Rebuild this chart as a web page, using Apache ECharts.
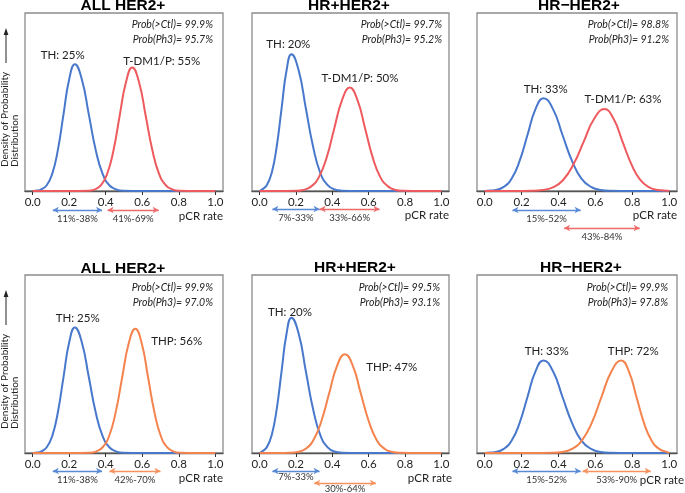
<!DOCTYPE html>
<html>
<head>
<meta charset="utf-8">
<script src="https://cdn.jsdelivr.net/npm/echarts@6/dist/echarts.min.js"></script>
<style>
html,body{margin:0;padding:0;background:#fff;}
#chart{width:685px;height:493px;}
</style>
</head>
<body>
<div id="chart"></div>
<script>
// ---------- DATA ----------
const xTicks = [0, 0.2, 0.4, 0.6, 0.8, 1.0];

// density curves: [pCR rate, relative density]
const thAllTop = [[0,0],[0.014,0.001],[0.045,0.008],[0.076,0.031],[0.107,0.096],[0.138,0.231],[0.169,0.432],[0.200,0.628],[0.231,0.712],[0.269,0.628],[0.307,0.432],[0.345,0.231],[0.383,0.096],[0.421,0.031],[0.459,0.008],[0.497,0.001],[0.6,0],[1,0]];
const tdm1All = [[0,0],[0.2,0],[0.304,0.001],[0.338,0.008],[0.373,0.031],[0.407,0.094],[0.442,0.226],[0.476,0.421],[0.511,0.612],[0.545,0.694],[0.582,0.612],[0.619,0.421],[0.656,0.226],[0.693,0.094],[0.730,0.031],[0.767,0.008],[0.804,0.001],[0.9,0],[1,0]];
const thHrPosTop = [[0,0],[0.013,0.008],[0.040,0.034],[0.067,0.104],[0.094,0.250],[0.121,0.466],[0.148,0.677],[0.175,0.768],[0.215,0.677],[0.254,0.466],[0.294,0.250],[0.333,0.104],[0.373,0.034],[0.412,0.008],[0.452,0.002],[0.55,0],[1,0]];
const tdm1HrPos = [[0,0],[0.1,0],[0.199,0.001],[0.241,0.006],[0.284,0.026],[0.326,0.078],[0.369,0.189],[0.411,0.353],[0.454,0.512],[0.496,0.581],[0.538,0.512],[0.580,0.353],[0.622,0.189],[0.664,0.078],[0.706,0.026],[0.748,0.006],[0.790,0.001],[0.9,0],[1,0]];
const thHrNegTop = [[0,0],[0.017,0.001],[0.060,0.006],[0.103,0.023],[0.146,0.070],[0.189,0.169],[0.232,0.316],[0.275,0.460],[0.318,0.521],[0.370,0.460],[0.421,0.316],[0.473,0.169],[0.524,0.070],[0.576,0.023],[0.627,0.006],[0.679,0.001],[0.8,0],[1,0]];
const tdm1HrNeg = [[0,0],[0.15,0],[0.257,0.001],[0.313,0.005],[0.369,0.020],[0.425,0.062],[0.481,0.150],[0.537,0.279],[0.593,0.406],[0.649,0.460],[0.698,0.406],[0.746,0.279],[0.795,0.150],[0.843,0.062],[0.892,0.020],[0.940,0.005],[0.989,0.001],[1,0]];

const thAllBot = [[0,0],[0.014,0.001],[0.045,0.008],[0.076,0.031],[0.107,0.095],[0.138,0.229],[0.169,0.428],[0.200,0.622],[0.231,0.705],[0.269,0.622],[0.307,0.428],[0.345,0.229],[0.383,0.095],[0.421,0.031],[0.459,0.008],[0.497,0.001],[0.6,0],[1,0]];
const thpAll = [[0,0],[0.2,0],[0.310,0.001],[0.346,0.008],[0.382,0.031],[0.418,0.094],[0.454,0.227],[0.490,0.424],[0.526,0.616],[0.562,0.698],[0.597,0.616],[0.632,0.424],[0.667,0.227],[0.702,0.094],[0.737,0.031],[0.772,0.008],[0.807,0.001],[0.9,0],[1,0]];
const thHrPosBot = [[0,0],[0.013,0.008],[0.040,0.033],[0.067,0.103],[0.094,0.247],[0.121,0.461],[0.148,0.670],[0.175,0.760],[0.215,0.670],[0.254,0.461],[0.294,0.247],[0.333,0.103],[0.373,0.033],[0.412,0.008],[0.452,0.002],[0.55,0],[1,0]];
const thpHrPos = [[0,0],[0.1,0],[0.168,0.001],[0.211,0.006],[0.254,0.024],[0.297,0.075],[0.340,0.180],[0.383,0.337],[0.426,0.490],[0.469,0.555],[0.513,0.490],[0.556,0.337],[0.600,0.180],[0.643,0.075],[0.687,0.024],[0.730,0.006],[0.774,0.001],[0.88,0],[1,0]];
const thHrNegBot = [[0,0],[0.017,0.001],[0.060,0.006],[0.103,0.023],[0.146,0.070],[0.189,0.169],[0.232,0.316],[0.275,0.459],[0.318,0.520],[0.370,0.459],[0.421,0.316],[0.473,0.169],[0.524,0.070],[0.576,0.023],[0.627,0.006],[0.679,0.001],[0.8,0],[1,0]];
const thpHrNeg = [[0,0],[0.25,0],[0.366,0.001],[0.419,0.006],[0.473,0.023],[0.526,0.070],[0.580,0.169],[0.633,0.316],[0.687,0.459],[0.740,0.520],[0.781,0.459],[0.822,0.316],[0.863,0.169],[0.904,0.070],[0.945,0.023],[0.986,0.006],[1,0.002]];

// 95% intervals [low, high]
const ciThAll = [0.11, 0.38];
const ciTdm1All = [0.41, 0.69];
const ciThHrPos = [0.07, 0.33];
const ciTdm1HrPos = [0.33, 0.66];
const ciThHrNeg = [0.15, 0.52];
const ciTdm1HrNeg = [0.43, 0.84];
const ciThpAll = [0.42, 0.70];
const ciThpHrPos = [0.30, 0.64];
const ciThpHrNeg = [0.53, 0.90];

// point estimates (%)
const meansTop = {TH: [25, 20, 33], TDM1: [55, 50, 63]};
const meansBot = {TH: [25, 20, 33], THP: [56, 47, 72]};
// probabilities (%) [Prob(>Ctl), Prob(Ph3)]
const probTop = [[99.9, 95.7], [99.7, 95.2], [98.8, 91.2]];
const probBot = [[99.9, 97.0], [99.5, 93.1], [99.9, 97.8]];
const titles = ['ALL HER2+', 'HR+HER2+', 'HR\u2212HER2+'];

// ---------- STYLE / LAYOUT ----------
const BLUE = '#4878cc', RED = '#ee5a5e', ORANGE = '#f5834d';
const BLUE_A = '#5a8ad6', RED_A = '#f06a6a', ORANGE_A = '#f7925f';
const FONT = 'Lato, "Open Sans", sans-serif';
const XMIN = -0.042, XMAX = 1.042;
const cols = [{left: 25, width: 198}, {left: 252, width: 197}, {left: 477, width: 200}];
const rows = [{top: 13, height: 178}, {top: 275, height: 178}];

const panels = [
  {r:0,c:0, ctl:{name:'TH', mean:meansTop.TH[0], curve:thAllTop, ci:ciThAll}, trt:{name:'T-DM1/P', mean:meansTop.TDM1[0], curve:tdm1All, ci:ciTdm1All, color:RED, acolor:RED_A}, prob:probTop[0],
   lab:{ctl:[62.7,55], trt:[161.7,61]}, arrows:{y:210, gap:18, ctlRow:0, trtRow:0, dist:4}, pcr:[223,216], probRight:213, probY:[25,40], title:[123,6]},
  {r:0,c:1, ctl:{name:'TH', mean:meansTop.TH[1], curve:thHrPosTop, ci:ciThHrPos}, trt:{name:'T-DM1/P', mean:meansTop.TDM1[1], curve:tdm1HrPos, ci:ciTdm1HrPos, color:RED, acolor:RED_A}, prob:probTop[1],
   lab:{ctl:[288.3,44], trt:[360,78]}, arrows:{y:209, gap:18, ctlRow:0, trtRow:0, dist:4}, pcr:[449,215], probRight:442, probY:[25,40], title:[349,6]},
  {r:0,c:2, ctl:{name:'TH', mean:meansTop.TH[2], curve:thHrNegTop, ci:ciThHrNeg}, trt:{name:'T-DM1/P', mean:meansTop.TDM1[2], curve:tdm1HrNeg, ci:ciTdm1HrNeg, color:RED, acolor:RED_A}, prob:probTop[2],
   lab:{ctl:[545.7,89], trt:[623,99]}, arrows:{y:210, gap:18, ctlRow:0, trtRow:1, dist:4}, pcr:[677,215], probRight:669, probY:[25,40], title:[579,6]},
  {r:1,c:0, ctl:{name:'TH', mean:meansBot.TH[0], curve:thAllBot, ci:ciThAll}, trt:{name:'THP', mean:meansBot.THP[0], curve:thpAll, ci:ciThpAll, color:ORANGE, acolor:ORANGE_A}, prob:probBot[0],
   lab:{ctl:[77.7,318], trt:[176.7,341]}, arrows:{y:471, gap:12, ctlRow:0, trtRow:0, dist:4}, pcr:[223,478], probRight:213, probY:[288,303], title:[123,269]},
  {r:1,c:1, ctl:{name:'TH', mean:meansBot.TH[1], curve:thHrPosBot, ci:ciThHrPos}, trt:{name:'THP', mean:meansBot.THP[1], curve:thpHrPos, ci:ciThpHrPos, color:ORANGE, acolor:ORANGE_A}, prob:probBot[1],
   lab:{ctl:[290,312], trt:[391.7,367]}, arrows:{y:471, gap:12, ctlRow:0, trtRow:1, dist:1}, pcr:[452,478], probRight:440, probY:[288,303], title:[355,268]},
  {r:1,c:2, ctl:{name:'TH', mean:meansBot.TH[2], curve:thHrNegBot, ci:ciThHrNeg}, trt:{name:'THP', mean:meansBot.THP[2], curve:thpHrNeg, ci:ciThpHrNeg, color:ORANGE, acolor:ORANGE_A}, prob:probBot[2],
   lab:{ctl:[546.7,351], trt:[633.3,351]}, arrows:{y:471, gap:12, ctlRow:0, trtRow:0, dist:4}, pcr:[684,480], probRight:668, probY:[288,303], title:[581,268]}
];

// ---------- BUILD ----------
const grid = [], xAxis = [], yAxis = [], series = [], graphic = [];
function txt(x, y, text, o) {
  o = o || {};
  graphic.push({type:'text', x:x, y:y, rotation:o.rotation || 0, z:100,
    style:{text:text, fontSize:o.size || 11, fontFamily:o.family || FONT, fontWeight:o.weight || 'normal',
      fontStyle:o.style || 'normal', fill:o.color || '#222',
      align:o.align || 'center', verticalAlign:'middle', textAlign:o.align || 'center', textVerticalAlign:'middle'}});
}
function pct(v){ return Math.round(v*100) + '%'; }

panels.forEach((p, i) => {
  const col = cols[p.c], row = rows[p.r];
  const gi = i * 2;
  grid.push({left:col.left, top:row.top, width:col.width, height:row.height, show:true,
    borderColor:'#8c8c8c', borderWidth:1.3, backgroundColor:'transparent'});
  grid.push({left:col.left, top:p.arrows.y, width:col.width, height:p.arrows.gap});
  xAxis.push({gridIndex:gi, type:'value', min:XMIN, max:XMAX,
    axisLine:{show:true, onZero:false, lineStyle:{color:'#555', width:1.3}},
    axisTick:{show:true, customValues:xTicks, length:4, lineStyle:{color:'#333', width:1}},
    axisLabel:{show:true, customValues:xTicks, formatter:v => v.toFixed(1), fontSize:11.5, color:'#222', fontFamily:FONT, margin:5},
    splitLine:{show:false}});
  yAxis.push({gridIndex:gi, type:'value', min:0, max:1, show:false});
  xAxis.push({gridIndex:gi+1, type:'value', min:XMIN, max:XMAX, show:false});
  yAxis.push({gridIndex:gi+1, type:'value', min:0, max:1, inverse:true, show:false});

  [[p.ctl, BLUE], [p.trt, p.trt.color]].forEach(([s, color]) => {
    series.push({type:'line', xAxisIndex:gi, yAxisIndex:gi, data:s.curve, smooth:0.5,
      showSymbol:false, symbol:'none', lineStyle:{color:color, width:2}, silent:true, clip:false});
  });
  [[p.ctl, BLUE_A, p.arrows.ctlRow], [p.trt, p.trt.acolor, p.arrows.trtRow]].forEach(([s, color, r]) => {
    series.push({type:'line', xAxisIndex:gi+1, yAxisIndex:gi+1, data:[], silent:true,
      markLine:{silent:true, symbol:['arrow','arrow'], symbolSize:[5,6], animation:false,
        lineStyle:{type:'solid', color:color, width:1.3},
        label:{show:true, position:'insideMiddleBottom', distance:p.arrows.dist, formatter:pct(s.ci[0]) + '-' + pct(s.ci[1]),
          fontSize:9.5, color:'#333', fontFamily:FONT},
        data:[[{coord:[s.ci[0], r]}, {coord:[s.ci[1], r]}]]}});
  });

  txt(p.title[0], p.title[1], titles[p.c], {size:15.5, weight:'bold', family:'"Liberation Sans", Arial, sans-serif', color:'#000'});
  txt(p.probRight, p.probY[0], 'Prob(>Ctl)= ' + p.prob[0].toFixed(1) + '%', {size:10.5, style:'italic', align:'right', color:'#222'});
  txt(p.probRight, p.probY[1], 'Prob(Ph3)= ' + p.prob[1].toFixed(1) + '%', {size:10.5, style:'italic', align:'right', color:'#222'});
  txt(p.lab.ctl[0], p.lab.ctl[1], p.ctl.name + ': ' + p.ctl.mean + '%', {size:11.5, color:'#222'});
  txt(p.lab.trt[0], p.lab.trt[1], p.trt.name + ': ' + p.trt.mean + '%', {size:11.5, color:'#222'});
  txt(p.pcr[0], p.pcr[1], 'pCR rate', {size:11.5, align:'right', color:'#222'});
});

// y-axis description with arrow, one per row
rows.forEach(row => {
  const yb = row.top + row.height - 24;
  txt(5, yb, 'Density of Probability', {size:10, rotation:Math.PI/2, align:'left'});
  txt(15, yb, 'Distribution', {size:10, rotation:Math.PI/2, align:'left'});
  graphic.push({type:'line', z:100, shape:{x1:6, y1:yb-104, x2:6, y2:yb-134}, style:{stroke:'#222', lineWidth:1}});
  graphic.push({type:'polygon', z:100, shape:{points:[[6, yb-139],[3.6, yb-132],[8.4, yb-132]]}, style:{fill:'#222'}});
});

const chart = echarts.init(document.getElementById('chart'), null, {renderer:'canvas'});
chart.setOption({animation:false, backgroundColor:'#fff', grid, xAxis, yAxis, series, graphic});
</script>
</body>
</html>
